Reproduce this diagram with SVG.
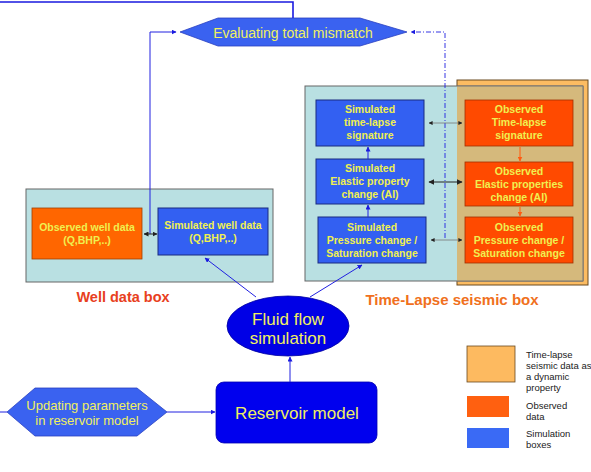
<svg xmlns="http://www.w3.org/2000/svg" width="591" height="472" viewBox="0 0 591 472">
<defs>
<style>
.box{stroke:#333;stroke-width:1}
.cyan{fill:#b9e0e2;stroke:#666;stroke-width:1}
.sim{fill:#3360f2;stroke:#1a2a80;stroke-width:1}
.obs{fill:#ff4a00;stroke:#a03000;stroke-width:0.8}
.t{font-family:"Liberation Sans",Arial,sans-serif;font-weight:bold;font-size:10.5px;fill:#f0f050;text-anchor:middle}
.tn{font-family:"Liberation Sans",Arial,sans-serif;font-size:17px;fill:#f0f060;text-anchor:middle}
.lg{font-family:"Liberation Sans",Arial,sans-serif;font-size:9.5px;fill:#222}
.blue{stroke:#2020e0;stroke-width:1;fill:none}
</style>
<marker id="ab" viewBox="0 0 10 10" refX="9" refY="5" markerWidth="5" markerHeight="5" orient="auto-start-reverse"><path d="M0,0L10,5L0,10z" fill="#1a1ae0"/></marker>
<marker id="ak" viewBox="0 0 10 10" refX="9" refY="5" markerWidth="5" markerHeight="5" orient="auto-start-reverse"><path d="M0,0L10,5L0,10z" fill="#222"/></marker>
<marker id="ao" viewBox="0 0 10 10" refX="9" refY="5" markerWidth="5" markerHeight="5" orient="auto-start-reverse"><path d="M0,0L10,5L0,10z" fill="#ff5a10"/></marker>
</defs>
<rect width="591" height="472" fill="#fff"/>

<g id="seismic-box">
<rect x="457" y="80" width="131" height="205" fill="#fcbc62" stroke="#6a4a20" stroke-width="1"/>
<rect x="305" y="86" width="278" height="195" class="cyan"/>
<rect x="457" y="86" width="126" height="195" fill="#d5b97c" stroke="none"/>
<path d="M457,86H583V281H457" fill="none" stroke="#777" stroke-width="1"/>
<text x="452" y="305" font-family="Liberation Sans,Arial,sans-serif" font-weight="bold" font-size="15" fill="#f07020" text-anchor="middle">Time-Lapse seismic box</text>
</g>

<g id="well-box">
<rect x="26" y="189" width="247" height="93" class="cyan"/>
<text x="123" y="302" font-family="Liberation Sans,Arial,sans-serif" font-weight="bold" font-size="14.5" fill="#e84020" text-anchor="middle">Well data box</text>
</g>

<g id="sim-tl">
<rect x="316" y="100" width="108" height="46" class="sim"/>
<text class="t" x="370" y="113">Simulated</text>
<text class="t" x="370" y="126">time-lapse</text>
<text class="t" x="370" y="139">signature</text>
</g>
<g id="sim-el">
<rect x="316" y="159" width="108" height="45" class="sim"/>
<text class="t" x="370" y="172">Simulated</text>
<text class="t" x="370" y="185">Elastic property</text>
<text class="t" x="370" y="198">change (AI)</text>
</g>
<g id="sim-pr">
<rect x="318" y="217" width="108" height="46" class="sim"/>
<text class="t" x="372" y="231">Simulated</text>
<text class="t" x="372" y="244">Pressure change /</text>
<text class="t" x="372" y="257">Saturation change</text>
</g>
<g id="obs-tl">
<rect x="465" y="100" width="108" height="46" class="obs"/>
<text class="t" x="519" y="113">Observed</text>
<text class="t" x="519" y="126">Time-lapse</text>
<text class="t" x="519" y="139">signature</text>
</g>
<g id="obs-el">
<rect x="465" y="162" width="108" height="44" class="obs"/>
<text class="t" x="519" y="175">Observed</text>
<text class="t" x="519" y="188">Elastic properties</text>
<text class="t" x="519" y="201">change (AI)</text>
</g>
<g id="obs-pr">
<rect x="465" y="217" width="108" height="46" class="obs"/>
<text class="t" x="519" y="231">Observed</text>
<text class="t" x="519" y="244">Pressure change /</text>
<text class="t" x="519" y="257">Saturation change</text>
</g>

<g id="obs-well">
<rect x="32" y="208" width="110" height="51" fill="#ff6600" stroke="#a04000" stroke-width="0.8"/>
<text class="t" x="87" y="231">Observed well data</text>
<text class="t" x="87" y="244">(Q,BHP,..)</text>
</g>
<g id="sim-well">
<rect x="158" y="208" width="110" height="47" class="sim"/>
<text class="t" x="213" y="229">Simulated well data</text>
<text class="t" x="213" y="242">(Q,BHP,..)</text>
</g>

<g id="evaluating">
<polygon points="180,32 218,18 360,18 407,32 360,46 218,46" fill="#3a62f0" stroke="#2a40c0" stroke-width="0.8"/>
<text x="293" y="38" font-family="Liberation Sans,Arial,sans-serif" font-size="14" fill="#f0f060" text-anchor="middle">Evaluating total mismatch</text>
</g>

<g id="fluid">
<ellipse cx="288" cy="326" rx="61" ry="30" fill="#0000e6" stroke="#0000a0" stroke-width="0.8"/>
<text class="tn" x="288" y="325">Fluid flow</text>
<text class="tn" x="288" y="344">simulation</text>
</g>

<g id="reservoir">
<rect x="216" y="382" width="161" height="61" rx="8" fill="#0000ee" stroke="#0000b0" stroke-width="0.8"/>
<text class="tn" x="297" y="419">Reservoir model</text>
</g>

<g id="updating">
<polygon points="7,412 35,388 137,388 167,412 137,436 35,436" fill="#3a62f0" stroke="#2a40c0" stroke-width="0.8"/>
<text x="87" y="410" font-family="Liberation Sans,Arial,sans-serif" font-size="13" fill="#f0f060" text-anchor="middle">Updating parameters</text>
<text x="87" y="425" font-family="Liberation Sans,Arial,sans-serif" font-size="13" fill="#f0f060" text-anchor="middle">in reservoir model</text>
</g>

<g id="legend">
<rect x="467" y="346" width="48" height="36" fill="#fdba60" stroke="#6a4a20" stroke-width="0.8"/>
<rect x="467" y="396" width="42" height="21" fill="#ff6010"/>
<rect x="467" y="428" width="42" height="20" fill="#3a6af5"/>
<text class="lg" x="526" y="358">Time-lapse</text>
<text class="lg" x="526" y="369">seismic data as</text>
<text class="lg" x="526" y="380"> a dynamic</text>
<text class="lg" x="526" y="391">property</text>
<text class="lg" x="526" y="409">Observed</text>
<text class="lg" x="526" y="420">data</text>
<text class="lg" x="526" y="437">Simulation</text>
<text class="lg" x="526" y="448">boxes</text>
</g>

<g id="connectors">
<path d="M0,2H293V18" stroke="#1a1ae0" stroke-width="1.6" fill="none"/>
<path d="M150,234V32H176" class="blue" marker-end="url(#ab)"/>
<path d="M445,238V32H411" stroke="#2020e0" stroke-width="0.9" stroke-dasharray="5,2,1,2" fill="none" marker-end="url(#ab)"/>
<path d="M429,123H462" stroke="#777" stroke-width="0.8" marker-start="url(#ak)" marker-end="url(#ak)"/>
<path d="M429,182H462" stroke="#222" stroke-width="1.2" marker-start="url(#ak)" marker-end="url(#ak)"/>
<path d="M431,240H462" stroke="#777" stroke-width="0.8" marker-start="url(#ak)" marker-end="url(#ak)"/>
<path d="M144,234H157" stroke="#222" stroke-width="1" marker-start="url(#ak)" marker-end="url(#ak)"/>
<path d="M368,159V147" class="blue" marker-end="url(#ab)"/>
<path d="M368,217V205" class="blue" marker-end="url(#ab)"/>
<path d="M520,147V161" stroke="#ff5a10" stroke-width="1" marker-end="url(#ao)"/>
<path d="M520,207V216" stroke="#ff5a10" stroke-width="1" marker-end="url(#ao)"/>
<path d="M256,297L205,258" class="blue" marker-end="url(#ab)"/>
<path d="M310,297L362,265" class="blue" marker-end="url(#ab)"/>
<path d="M290,382V357" class="blue" marker-end="url(#ab)"/>
<path d="M0,412H7" class="blue"/>
<path d="M167,412H215" class="blue" marker-end="url(#ab)"/>
</g>
</svg>
